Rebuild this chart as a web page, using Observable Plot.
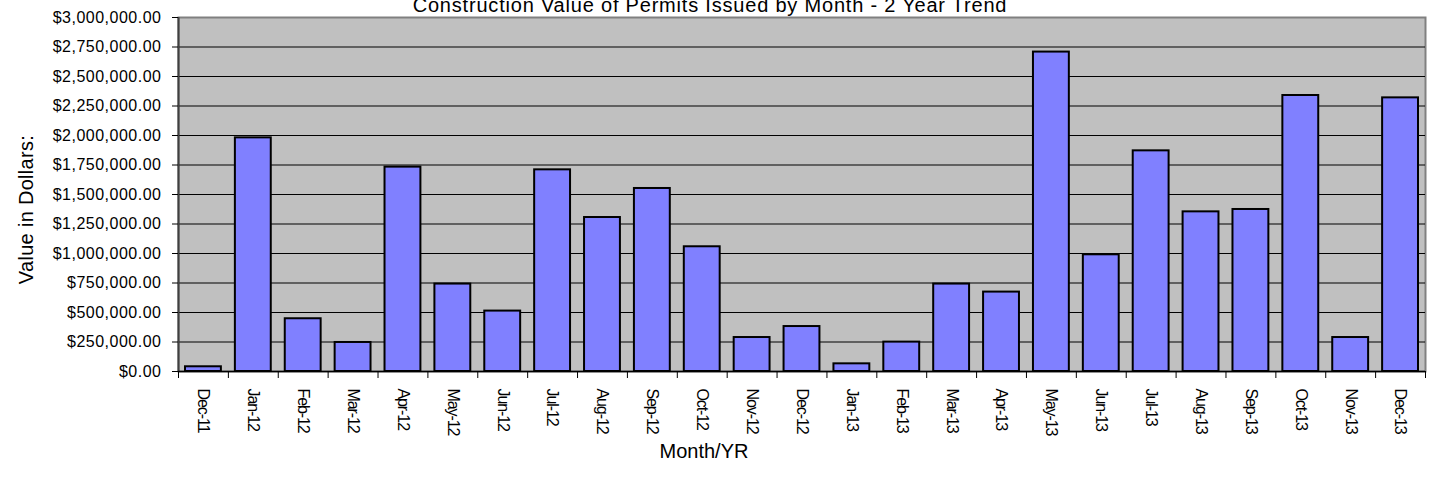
<!DOCTYPE html>
<html><head><meta charset="utf-8">
<script src="https://cdn.jsdelivr.net/npm/d3@7"></script>
<script src="https://cdn.jsdelivr.net/npm/@observablehq/plot@0.6"></script>
<style>
body{margin:0;background:#fff;}
#chart svg{display:block;}
g[aria-label="y-axis tick label"] text{letter-spacing:0.5px;}
g[aria-label="x-axis tick label"] text{letter-spacing:-1.1px;}
g.title text{letter-spacing:0.8px;}
g.ylab text{letter-spacing:0.3px;}
</style></head><body><div id="chart"></div>
<script>
const title = "Construction Value of Permits Issued by Month - 2 Year Trend";
const xLabel = "Month/YR";
const yLabel = "Value in Dollars:";
const months = ["Dec-11","Jan-12","Feb-12","Mar-12","Apr-12","May-12","Jun-12","Jul-12","Aug-12","Sep-12","Oct-12","Nov-12","Dec-12","Jan-13","Feb-13","Mar-13","Apr-13","May-13","Jun-13","Jul-13","Aug-13","Sep-13","Oct-13","Nov-13","Dec-13"];
const values = [40000,1980000,447000,246000,1732000,741000,512000,1709000,1305000,1551000,1057000,288000,381000,65000,249000,741000,673000,2707000,989000,1870000,1353000,1373000,2339000,288000,2319000];
const yTicks = [0,250000,500000,750000,1000000,1250000,1500000,1750000,2000000,2250000,2500000,2750000,3000000];

const data = months.map((m, i) => ({i, month: m, value: values[i]}));
const gridTicks = yTicks.filter(v => v > 0 && v < 3000000);
const font = "'Liberation Sans',Arial,sans-serif";

const plot = Plot.plot({
  width: 1432, height: 479,
  marginLeft: 178, marginRight: 7, marginTop: 17, marginBottom: 108,
  style: {fontFamily: font, background: "#fff", color: "#000", overflow: "hidden"},
  x: {type: "linear", domain: [0, months.length]},
  y: {domain: [0, 3000000]},
  marks: [
    Plot.frame({fill: "#C0C0C0", stroke: "#808080", strokeWidth: 2}),
    Plot.gridY(gridTicks, {stroke: "#000", strokeOpacity: 1}),
    Plot.rectY(data, {x1: d => d.i, x2: d => d.i + 1, y: "value", insetLeft: 7, insetRight: 7, fill: "#8080FF", stroke: "#000", strokeWidth: 2}),
    Plot.ruleX([0], {stroke: "#404040", strokeWidth: 2}),
    Plot.ruleY([0], {stroke: "#000", strokeWidth: 1.5}),
    Plot.axisY({ticks: yTicks, tickFormat: d3.format("$,.2f"), tickSize: 6, tickPadding: 11, fontSize: 16, label: null, stroke: "#000"}),
    Plot.axisX({ticks: d3.range(months.length + 1), tickFormat: () => "", tickSize: 7, label: null, stroke: "#000"}),
    Plot.axisX({ticks: months.map((m, i) => i + 0.5), tickFormat: v => months[Math.floor(v)], tickSize: 0, tickPadding: 17, tickRotate: 90, fontSize: 16, label: null}),
    Plot.text([title], {text: d => d, frameAnchor: "top", dx: -92, dy: -6, lineAnchor: "bottom", fontSize: 20, className: "title"}),
    Plot.text([xLabel], {text: d => d, frameAnchor: "bottom", dx: -98, dy: 86, fontSize: 20}),
    Plot.text([yLabel], {text: d => d, frameAnchor: "left", textAnchor: "middle", rotate: -90, dx: -152, dy: 15, fontSize: 20, className: "ylab"})
  ]
});
document.getElementById("chart").appendChild(plot);
</script>
</body></html>
